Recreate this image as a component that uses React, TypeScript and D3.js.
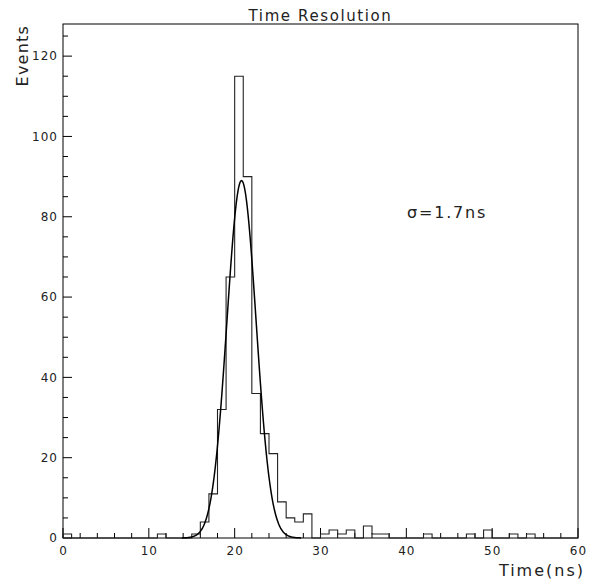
import React, { useEffect, useRef } from "react";
import * as d3 from "d3";

// histogram: 1 ns bins from 0 to 60
const binEdges = d3.range(0, 61);
const counts = [
  1, 0, 0, 0, 0, 0, 0, 0, 0, 0,
  0, 1, 0, 0, 0, 1, 4, 11, 32, 65,
  115, 90, 36, 26, 21, 9, 5, 4, 6, 0,
  1, 2, 1, 2, 0, 3, 1, 1, 0, 0,
  0, 0, 1, 0, 0, 0, 0, 1, 0, 2,
  0, 0, 1, 0, 1, 0, 0, 0, 0, 0,
];

// gaussian fit parameters
const fitConst = 89;
const fitMean = 20.8;
const fitSigma = 1.7;

const xMajorTicks = [0, 10, 20, 30, 40, 50, 60];
const yMajorTicks = [0, 20, 40, 60, 80, 100, 120];

const W = 599;
const H = 584;
const FONT = "'DejaVu Sans', sans-serif";
const TXT = "#222";

export default function App() {
  const svgRef = useRef<SVGSVGElement | null>(null);

  useEffect(() => {
    const svg = d3.select(svgRef.current);
    svg.selectAll("*").remove();

    const margin = { top: 24, right: 21, bottom: 46, left: 63 };

    const x = d3.scaleLinear().domain([0, 60]).range([margin.left, W - margin.right]);
    const y = d3.scaleLinear().domain([0, 128]).range([H - margin.bottom, margin.top]);

    // === frame ===
    svg.append("rect")
      .attr("x", x(0))
      .attr("y", y(128))
      .attr("width", x(60) - x(0))
      .attr("height", y(0) - y(128))
      .attr("fill", "none")
      .attr("stroke", "#000")
      .attr("stroke-width", 1);

    // === X axis ticks (inside, upward) ===
    const gx = svg.append("g");
    gx.selectAll("line")
      .data(d3.range(0, 61, 2))
      .enter()
      .append("line")
      .attr("x1", (d) => x(d))
      .attr("x2", (d) => x(d))
      .attr("y1", y(0))
      .attr("y2", (d) => y(0) - (d % 10 === 0 ? 10 : 5))
      .attr("stroke", "#000");
    gx.selectAll("text")
      .data(xMajorTicks)
      .enter()
      .append("text")
      .attr("x", (d) => x(d) + 0.5)
      .attr("y", y(0) + 17)
      .attr("text-anchor", "middle")
      .attr("font-family", FONT)
      .attr("font-size", 12)
      .attr("letter-spacing", 1)
      .attr("fill", TXT)
      .text((d) => d);

    // === Y axis ticks (inside, rightward) ===
    const gy = svg.append("g");
    gy.selectAll("line")
      .data(d3.range(0, 126, 5))
      .enter()
      .append("line")
      .attr("x1", x(0))
      .attr("x2", (d) => x(0) + (d % 20 === 0 ? 9 : 5))
      .attr("y1", (d) => y(d))
      .attr("y2", (d) => y(d))
      .attr("stroke", "#000");
    gy.selectAll("text")
      .data(yMajorTicks)
      .enter()
      .append("text")
      .attr("x", x(0) - 5)
      .attr("y", (d) => y(d))
      .attr("dy", "0.36em")
      .attr("text-anchor", "end")
      .attr("font-family", FONT)
      .attr("font-size", 12)
      .attr("letter-spacing", 1)
      .attr("fill", TXT)
      .text((d) => d);

    // === histogram outline ===
    const pts: [number, number][] = [[0, 0]];
    counts.forEach((c, i) => {
      pts.push([binEdges[i], c]);
      pts.push([binEdges[i + 1], c]);
    });
    pts.push([60, 0]);
    const histLine = d3.line<[number, number]>()
      .x((d) => x(d[0]))
      .y((d) => y(d[1]));
    svg.append("path")
      .datum(pts)
      .attr("d", histLine)
      .attr("fill", "none")
      .attr("stroke", "#222")
      .attr("stroke-width", 1.1);

    // === gaussian fit ===
    const fitPts = d3.range(12, 30.01, 0.05).map((t) => [
      t,
      fitConst * Math.exp(-0.5 * ((t - fitMean) / fitSigma) ** 2),
    ] as [number, number]);
    const fitLine = d3.line<[number, number]>()
      .x((d) => x(d[0]))
      .y((d) => y(d[1]))
      .curve(d3.curveMonotoneX);
    svg.append("path")
      .datum(fitPts.filter((d) => d[1] > 0.02))
      .attr("d", fitLine)
      .attr("fill", "none")
      .attr("stroke", "#000")
      .attr("stroke-width", 1.5);

    // === titles ===
    svg.append("text")
      .attr("x", (x(0) + x(60)) / 2)
      .attr("y", 21)
      .attr("text-anchor", "middle")
      .attr("font-family", FONT)
      .attr("font-size", 15)
      .attr("letter-spacing", 1.6)
      .attr("fill", TXT)
      .text("Time Resolution");

    svg.append("text")
      .attr("transform", `translate(28,${y(128) + 1}) rotate(-90)`)
      .attr("text-anchor", "end")
      .attr("font-family", FONT)
      .attr("font-size", 16)
      .attr("letter-spacing", 1.2)
      .attr("fill", TXT)
      .text("Events");

    svg.append("text")
      .attr("x", 585)
      .attr("y", 576)
      .attr("text-anchor", "end")
      .attr("font-family", FONT)
      .attr("font-size", 16)
      .attr("letter-spacing", 2)
      .attr("fill", TXT)
      .text("Time(ns)");

    svg.append("text")
      .attr("x", 407)
      .attr("y", 218)
      .attr("font-family", FONT)
      .attr("font-size", 16)
      .attr("letter-spacing", 1.8)
      .attr("fill", TXT)
      .text("σ=1.7ns");
  }, []);

  return (
    <svg
      ref={svgRef}
      width={W}
      height={H}
      style={{ position: "absolute", left: 0, top: 0, background: "#fff" }}
    />
  );
}
